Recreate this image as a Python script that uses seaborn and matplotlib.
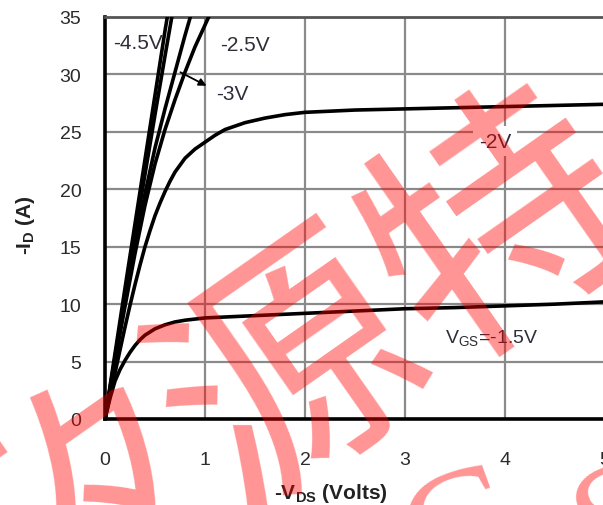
import numpy as np
import pandas as pd
import matplotlib
matplotlib.use("Agg")
import matplotlib.pyplot as plt
import seaborn as sns

# Output characteristics: -ID vs -VDS for several gate voltages
vds_10v = [0, 0.1, 0.2, 0.3, 0.4, 0.5, 0.6, 0.7]
id_10v = [0, 5.7, 11.4, 17.0, 22.6, 28.2, 33.8, 39.0]

vds_45v = [0, 0.1, 0.2, 0.3, 0.4, 0.5, 0.6, 0.7]
id_45v = [0, 5.4, 10.8, 16.1, 21.3, 26.5, 31.6, 36.6]

vds_3v = [0, 0.1, 0.2, 0.3, 0.4, 0.5, 0.6, 0.7, 0.8, 0.9]
id_3v = [0, 5.2, 10.2, 15.0, 19.6, 23.6, 27.0, 30.2, 33.4, 36.4]

vds_25v = [0, 0.1, 0.2, 0.3, 0.4, 0.5, 0.6, 0.7, 0.8, 0.9, 1.0, 1.1]
id_25v = [0, 5.0, 9.8, 14.4, 18.6, 22.2, 25.2, 27.8, 30.2, 32.4, 34.3, 36.2]

vds_2v = [0, 0.05, 0.1, 0.15, 0.2, 0.25, 0.3, 0.35, 0.4, 0.45, 0.5, 0.55,
          0.6, 0.65, 0.7, 0.8, 0.9, 1.0, 1.1, 1.2, 1.4, 1.6, 1.8, 2.0, 2.5,
          3.0, 3.5, 4.0, 4.5, 5.0]
id_2v = [0, 2.0, 4.0, 6.0, 8.0, 9.9, 11.7, 13.4, 15.0, 16.4, 17.7, 18.8,
         19.8, 20.7, 21.5, 22.7, 23.5, 24.1, 24.7, 25.2, 25.8, 26.2, 26.5,
         26.7, 26.9, 27.0, 27.1, 27.2, 27.3, 27.4]

vds_15v = [0, 0.05, 0.1, 0.15, 0.2, 0.25, 0.3, 0.35, 0.4, 0.5, 0.6, 0.7,
           0.8, 1.0, 1.5, 2.0, 2.5, 3.0, 3.5, 4.0, 4.5, 5.0]
id_15v = [0, 1.8, 3.3, 4.3, 5.1, 5.8, 6.4, 6.9, 7.3, 7.85, 8.2, 8.45,
          8.6, 8.8, 9.0, 9.2, 9.4, 9.6, 9.7, 9.85, 10.0, 10.2]

series = {
    "-10V": (vds_10v, id_10v),
    "-4.5V": (vds_45v, id_45v),
    "-3V": (vds_3v, id_3v),
    "-2.5V": (vds_25v, id_25v),
    "-2V": (vds_2v, id_2v),
    "-1.5V": (vds_15v, id_15v),
}

x_ticks = [0, 1, 2, 3, 4, 5]
y_ticks = [0, 5, 10, 15, 20, 25, 30, 35]

frames = [pd.DataFrame({"vds": v, "id": i, "vgs": name})
          for name, (v, i) in series.items()]
df = pd.concat(frames, ignore_index=True)

sns.set_theme(style="white")
plt.rcParams["font.family"] = ["Liberation Sans", "DejaVu Sans"]
plt.rcParams["mathtext.fontset"] = "custom"
plt.rcParams["mathtext.rm"] = "Liberation Sans"
plt.rcParams["mathtext.it"] = "Liberation Sans"
plt.rcParams["mathtext.bf"] = "Liberation Sans:bold"

fig = plt.figure(figsize=(6.03, 5.06), dpi=100)
fig.patch.set_facecolor("white")
ax = fig.add_axes([105 / 603, 86 / 506, 500 / 603, 402 / 506])

sns.lineplot(data=df, x="vds", y="id", hue="vgs", units="vgs", estimator=None,
             palette=["black"] * len(series), linewidth=2.6, legend=False,
             ax=ax, zorder=3)

ax.set_xlim(0, 5)
ax.set_ylim(0, 35)
ax.set_xticks(x_ticks)
ax.set_yticks(y_ticks)
ax.set_xticklabels([str(t) for t in x_ticks])
ax.set_yticklabels([str(t) for t in y_ticks])
ax.tick_params(axis="both", length=0, labelsize=14, labelcolor="#2b2b2b")
ax.tick_params(axis="x", pad=23)
ax.tick_params(axis="y", pad=17)

ax.grid(True, color="#8a8a8a", linewidth=1.6, zorder=1)
ax.set_axisbelow(True)
for side in ["left", "bottom"]:
    ax.spines[side].set_color("black")
    ax.spines[side].set_linewidth(2.6)
ax.spines["top"].set_color("#555555")
ax.spines["top"].set_linewidth(2.0)
ax.spines["right"].set_color("#555555")
ax.spines["right"].set_linewidth(2.0)

ax.set_xlabel(r"-V$_\mathbf{DS}$ (Volts)", fontsize=15, fontweight="bold",
              color="#222222")
ax.set_ylabel(r"-I$_\mathbf{D}$ (A)", fontsize=15, fontweight="bold",
              color="#222222")
ax.xaxis.label.set_verticalalignment("center")
ax.yaxis.label.set_verticalalignment("center")
ax.xaxis.set_label_coords(0.452, -0.182)
ax.yaxis.set_label_coords(-0.16, 0.485)

lab = dict(fontsize=15, color="#2e2e3a", zorder=5)
ax.text(0.08, 32.8, "-4.5V", ha="left", va="center", **lab)
ax.text(1.15, 32.6, "-2.5V", ha="left", va="center", **lab)
ax.text(1.11, 28.3, "-3V", ha="left", va="center",
        bbox=dict(facecolor="white", edgecolor="none", pad=6), **lab)
ax.text(3.9, 24.2, "-2V", ha="center", va="center",
        bbox=dict(facecolor="white", edgecolor="none", pad=4), **lab)
ax.text(3.4, 7.1, r"V$_\mathregular{GS}$=-1.5V", ha="left", va="center",
        fontsize=14, color="#2e2e3a", zorder=5)
ax.annotate("", xy=(1.04, 28.9), xytext=(0.73, 30.3),
            arrowprops=dict(arrowstyle="-|>", color="black", lw=1.3,
                            mutation_scale=11), zorder=5)

# Translucent red watermark across the figure
fig.text(295 / 603, 1 - 380 / 506, "矽源特", fontsize=185,
         family=["Noto Sans CJK SC", "DejaVu Sans"], color="red", alpha=0.42,
         rotation=35, ha="center", va="center", rotation_mode="anchor",
         zorder=10)
fig.text(462 / 603, 1 - 540 / 506, "C", fontsize=120,
         family=["Liberation Serif"], color="red", alpha=0.42,
         rotation=20, ha="center", va="center", rotation_mode="anchor",
         zorder=10)
fig.text(625 / 603, 1 - 530 / 506, "S", fontsize=120,
         family=["Liberation Serif"], color="red", alpha=0.42,
         rotation=20, ha="center", va="center", rotation_mode="anchor",
         zorder=10)

fig.savefig("out.png", dpi=100, facecolor="white")
